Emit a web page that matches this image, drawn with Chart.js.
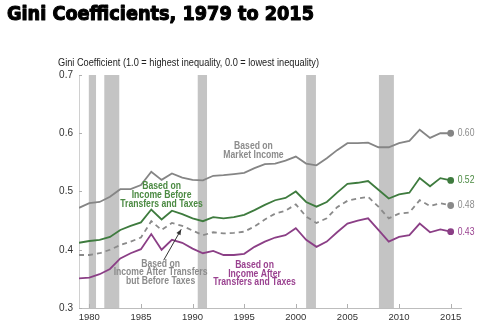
<!DOCTYPE html>
<html>
<head>
<meta charset="utf-8">
<script src="https://cdn.jsdelivr.net/npm/chart.js@4"></script>
<style>
  html, body { margin: 0; padding: 0; background: #fff; }
  #wrap { width: 479px; height: 329px; }
</style>
</head>
<body>
<div id="wrap"><canvas id="gini-chart" width="479" height="329"></canvas></div>
<script>
const years = [1979, 1980, 1981, 1982, 1983, 1984, 1985, 1986, 1987, 1988, 1989, 1990, 1991, 1992, 1993, 1994, 1995, 1996, 1997, 1998, 1999, 2000, 2001, 2002, 2003, 2004, 2005, 2006, 2007, 2008, 2009, 2010, 2011, 2012, 2013, 2014, 2015];
const marketIncome = [0.472, 0.480, 0.482, 0.491, 0.504, 0.504, 0.511, 0.534, 0.520, 0.531, 0.524, 0.520, 0.519, 0.527, 0.528, 0.530, 0.532, 0.540, 0.547, 0.548, 0.553, 0.560, 0.548, 0.545, 0.557, 0.571, 0.583, 0.583, 0.584, 0.576, 0.576, 0.583, 0.587, 0.606, 0.592, 0.600, 0.600];
const beforeTransfersTaxes = [0.412, 0.415, 0.417, 0.422, 0.434, 0.441, 0.447, 0.469, 0.452, 0.467, 0.461, 0.454, 0.449, 0.456, 0.454, 0.456, 0.460, 0.468, 0.477, 0.485, 0.489, 0.500, 0.482, 0.474, 0.482, 0.498, 0.513, 0.515, 0.518, 0.503, 0.488, 0.495, 0.498, 0.523, 0.509, 0.523, 0.519];
const afterTransfersBeforeTaxes = [0.391, 0.391, 0.394, 0.400, 0.408, 0.414, 0.421, 0.449, 0.434, 0.446, 0.441, 0.433, 0.425, 0.430, 0.428, 0.429, 0.431, 0.440, 0.452, 0.462, 0.467, 0.478, 0.457, 0.446, 0.454, 0.473, 0.484, 0.488, 0.491, 0.474, 0.454, 0.462, 0.464, 0.485, 0.475, 0.480, 0.476];
const afterTransfersTaxes = [0.351, 0.352, 0.358, 0.367, 0.385, 0.394, 0.401, 0.427, 0.400, 0.417, 0.412, 0.402, 0.394, 0.398, 0.391, 0.391, 0.393, 0.405, 0.414, 0.421, 0.425, 0.437, 0.417, 0.405, 0.414, 0.430, 0.445, 0.450, 0.454, 0.434, 0.414, 0.422, 0.425, 0.445, 0.430, 0.435, 0.431];
const endLabels = ["0.60", "0.52", "0.48", "0.43"];

const xTicks = [1980, 1985, 1990, 1995, 2000, 2005, 2010, 2015];
const yTicks = [0.3, 0.4, 0.5, 0.6, 0.7];

// recessions (shaded bars)
const recessionStart = [1979.95, 1981.45, 1990.5, 2001.0, 2008.05];
const recessionEnd = [1980.65, 1982.9, 1991.4, 2001.95, 2009.5];

const colors = ["#858585", "#3e7b3e", "#8a8a8a", "#8b3f86"];
const textColors = ["#8c8c8c", "#4b8a42", "#8c8c8c", "#9a4290"];

function points(values) {
    return years.map((yr, i) => ({ x: yr, y: values[i] }));
}

const lastIdx = years.length - 1;

function drawText(ctx, text, x, y, font, color, align, sx, stroke) {
    ctx.save();
    ctx.font = font;
    ctx.fillStyle = color;
    ctx.textBaseline = "middle";
    let w = ctx.measureText(text).width * sx;
    let left = x;
    if (align === "center") left = x - w / 2;
    if (align === "right") left = x - w;
    ctx.translate(left, y);
    ctx.scale(sx, 1);
    ctx.textAlign = "left";
    ctx.fillText(text, 0, 0);
    if (stroke) {
        ctx.strokeStyle = color;
        ctx.lineWidth = stroke;
        ctx.lineJoin = "round";
        ctx.strokeText(text, 0, 0);
    }
    ctx.restore();
}

const extras = {
    id: "extras",
    beforeDatasetsDraw(chart) {
        const ctx = chart.ctx;
        const xs = chart.scales.x, ys = chart.scales.y;
        const top = chart.chartArea.top, bottom = chart.chartArea.bottom;
        ctx.save();
        ctx.fillStyle = "#c4c4c4";
        for (let i = 0; i < recessionStart.length; i++) {
            let x1 = xs.getPixelForValue(recessionStart[i]);
            let x2 = xs.getPixelForValue(recessionEnd[i]);
            ctx.fillRect(x1, top, x2 - x1, bottom - top);
        }
        // small inward tick marks
        ctx.strokeStyle = "#b0b0b0";
        ctx.lineWidth = 1;
        ctx.beginPath();
        xTicks.forEach(v => {
            let x = Math.round(xs.getPixelForValue(v)) + 0.5;
            ctx.moveTo(x, bottom);
            ctx.lineTo(x, bottom - 4);
        });
        yTicks.forEach(v => {
            let y = Math.round(ys.getPixelForValue(v)) + 0.5;
            ctx.moveTo(chart.chartArea.left, y);
            ctx.lineTo(chart.chartArea.left + 3, y);
        });
        ctx.stroke();
        ctx.restore();
    },
    afterDatasetsDraw(chart) {
        const ctx = chart.ctx;
        const xs = chart.scales.x, ys = chart.scales.y;
        const X = v => xs.getPixelForValue(v);
        const Y = v => ys.getPixelForValue(v);
        const sx = 0.82;
        const bold = 'bold 10.5px "Liberation Sans", Arial, sans-serif';

        // end labels
        const series = [marketIncome, beforeTransfersTaxes, afterTransfersBeforeTaxes, afterTransfersTaxes];
        series.forEach((s, i) => {
            drawText(ctx, endLabels[i], X(years[lastIdx]) + 7, Y(s[lastIdx]), '10.5px "Liberation Sans", Arial, sans-serif', textColors[i], "left", sx);
        });

        // annotations
        drawText(ctx, "Based on", X(1995.9), Y(0.578), bold, textColors[0], "center", sx);
        drawText(ctx, "Market Income", X(1995.9), Y(0.562), bold, textColors[0], "center", sx);

        drawText(ctx, "Based on", X(1987.0), Y(0.509), bold, textColors[1], "center", sx);
        drawText(ctx, "Income Before", X(1987.0), Y(0.494), bold, textColors[1], "center", sx);
        drawText(ctx, "Transfers and Taxes", X(1987.0), Y(0.479), bold, textColors[1], "center", sx);

        drawText(ctx, "Based on", X(1986.9), Y(0.376), bold, textColors[2], "center", sx);
        drawText(ctx, "Income After Transfers", X(1986.9), Y(0.361), bold, textColors[2], "center", sx);
        drawText(ctx, "but Before Taxes", X(1986.9), Y(0.346), bold, textColors[2], "center", sx);

        drawText(ctx, "Based on", X(1996.0), Y(0.374), bold, textColors[3], "center", sx);
        drawText(ctx, "Income After", X(1996.0), Y(0.359), bold, textColors[3], "center", sx);
        drawText(ctx, "Transfers and Taxes", X(1996.0), Y(0.344), bold, textColors[3], "center", sx);

        // arrow
        let x1 = X(1987.2), y1 = Y(0.382), x2 = X(1988.9), y2 = Y(0.435);
        let ang = Math.atan2(y2 - y1, x2 - x1);
        ctx.save();
        ctx.strokeStyle = "#333";
        ctx.fillStyle = "#333";
        ctx.lineWidth = 1;
        ctx.beginPath();
        ctx.moveTo(x1, y1);
        ctx.lineTo(x2, y2);
        ctx.stroke();
        ctx.beginPath();
        ctx.moveTo(x2, y2);
        ctx.lineTo(x2 - 6 * Math.cos(ang - 0.4), y2 - 6 * Math.sin(ang - 0.4));
        ctx.lineTo(x2 - 6 * Math.cos(ang + 0.4), y2 - 6 * Math.sin(ang + 0.4));
        ctx.closePath();
        ctx.fill();
        ctx.restore();
    },
    afterDraw(chart) {
        const ctx = chart.ctx;
        // title and axis caption
        const title = "Gini Coefficients, 1979 to 2015";
        const titleFont = 'bold 19px "DejaVu Sans", sans-serif';
        ctx.save();
        ctx.font = titleFont;
        let tw = ctx.measureText(title).width;
        ctx.restore();
        drawText(ctx, title, 7, 15, titleFont, "#000", "left", 307 / tw, 1.1);

        const caption = "Gini Coefficient (1.0 = highest inequality, 0.0 = lowest inequality)";
        const capFont = '10px "Liberation Sans", Arial, sans-serif';
        ctx.save();
        ctx.font = capFont;
        let sw = ctx.measureText(caption).width;
        ctx.restore();
        drawText(ctx, caption, 58, 63, capFont, "#222", "left", 261 / sw);
    }
};

const ctx = document.getElementById("gini-chart").getContext("2d");

const giniChart = new Chart(ctx, {
    type: "line",
    data: {
        datasets: [
            {
                label: "Market Income",
                data: points(marketIncome),
                borderColor: colors[0],
                backgroundColor: colors[0],
                borderWidth: 1.8
            },
            {
                label: "Income Before Transfers and Taxes",
                data: points(beforeTransfersTaxes),
                borderColor: colors[1],
                backgroundColor: colors[1],
                borderWidth: 1.8
            },
            {
                label: "Income After Transfers but Before Taxes",
                data: points(afterTransfersBeforeTaxes),
                borderColor: colors[2],
                backgroundColor: colors[2],
                borderWidth: 1.8,
                borderDash: [5, 4]
            },
            {
                label: "Income After Transfers and Taxes",
                data: points(afterTransfersTaxes),
                borderColor: colors[3],
                backgroundColor: colors[3],
                borderWidth: 1.8
            }
        ]
    },
    options: {
        responsive: false,
        animation: false,
        layout: { padding: { top: 75, right: 18, left: 0, bottom: 0 } },
        elements: {
            line: { tension: 0, fill: false },
            point: {
                radius: c => (c.dataIndex === lastIdx ? 2.5 : 0),
                borderWidth: 0
            }
        },
        scales: {
            x: {
                type: "linear",
                min: 1979,
                max: 2016,
                afterBuildTicks: s => { s.ticks = xTicks.map(v => ({ value: v })); },
                afterFit: s => { s.height = 21; },
                grid: { drawOnChartArea: false, drawTicks: false },
                border: { color: "#bdbdbd", width: 1 },
                ticks: {
                    padding: 4,
                    color: "#333",
                    font: { family: '"Liberation Sans", Arial, sans-serif', size: 9.5 },
                    maxRotation: 0,
                    callback: v => String(v)
                }
            },
            y: {
                min: 0.3,
                max: 0.7,
                afterBuildTicks: s => { s.ticks = yTicks.map(v => ({ value: v })); },
                afterFit: s => { s.width = 79; },
                grid: { drawOnChartArea: false, drawTicks: false },
                border: { color: "#d0d0d0", width: 1 },
                ticks: {
                    padding: 6,
                    color: "#333",
                    font: { family: '"Liberation Sans", Arial, sans-serif', size: 10 },
                    callback: v => Number(v).toFixed(1)
                }
            }
        },
        plugins: {
            legend: { display: false },
            tooltip: { enabled: false }
        }
    },
    plugins: [extras]
});
</script>
</body>
</html>
